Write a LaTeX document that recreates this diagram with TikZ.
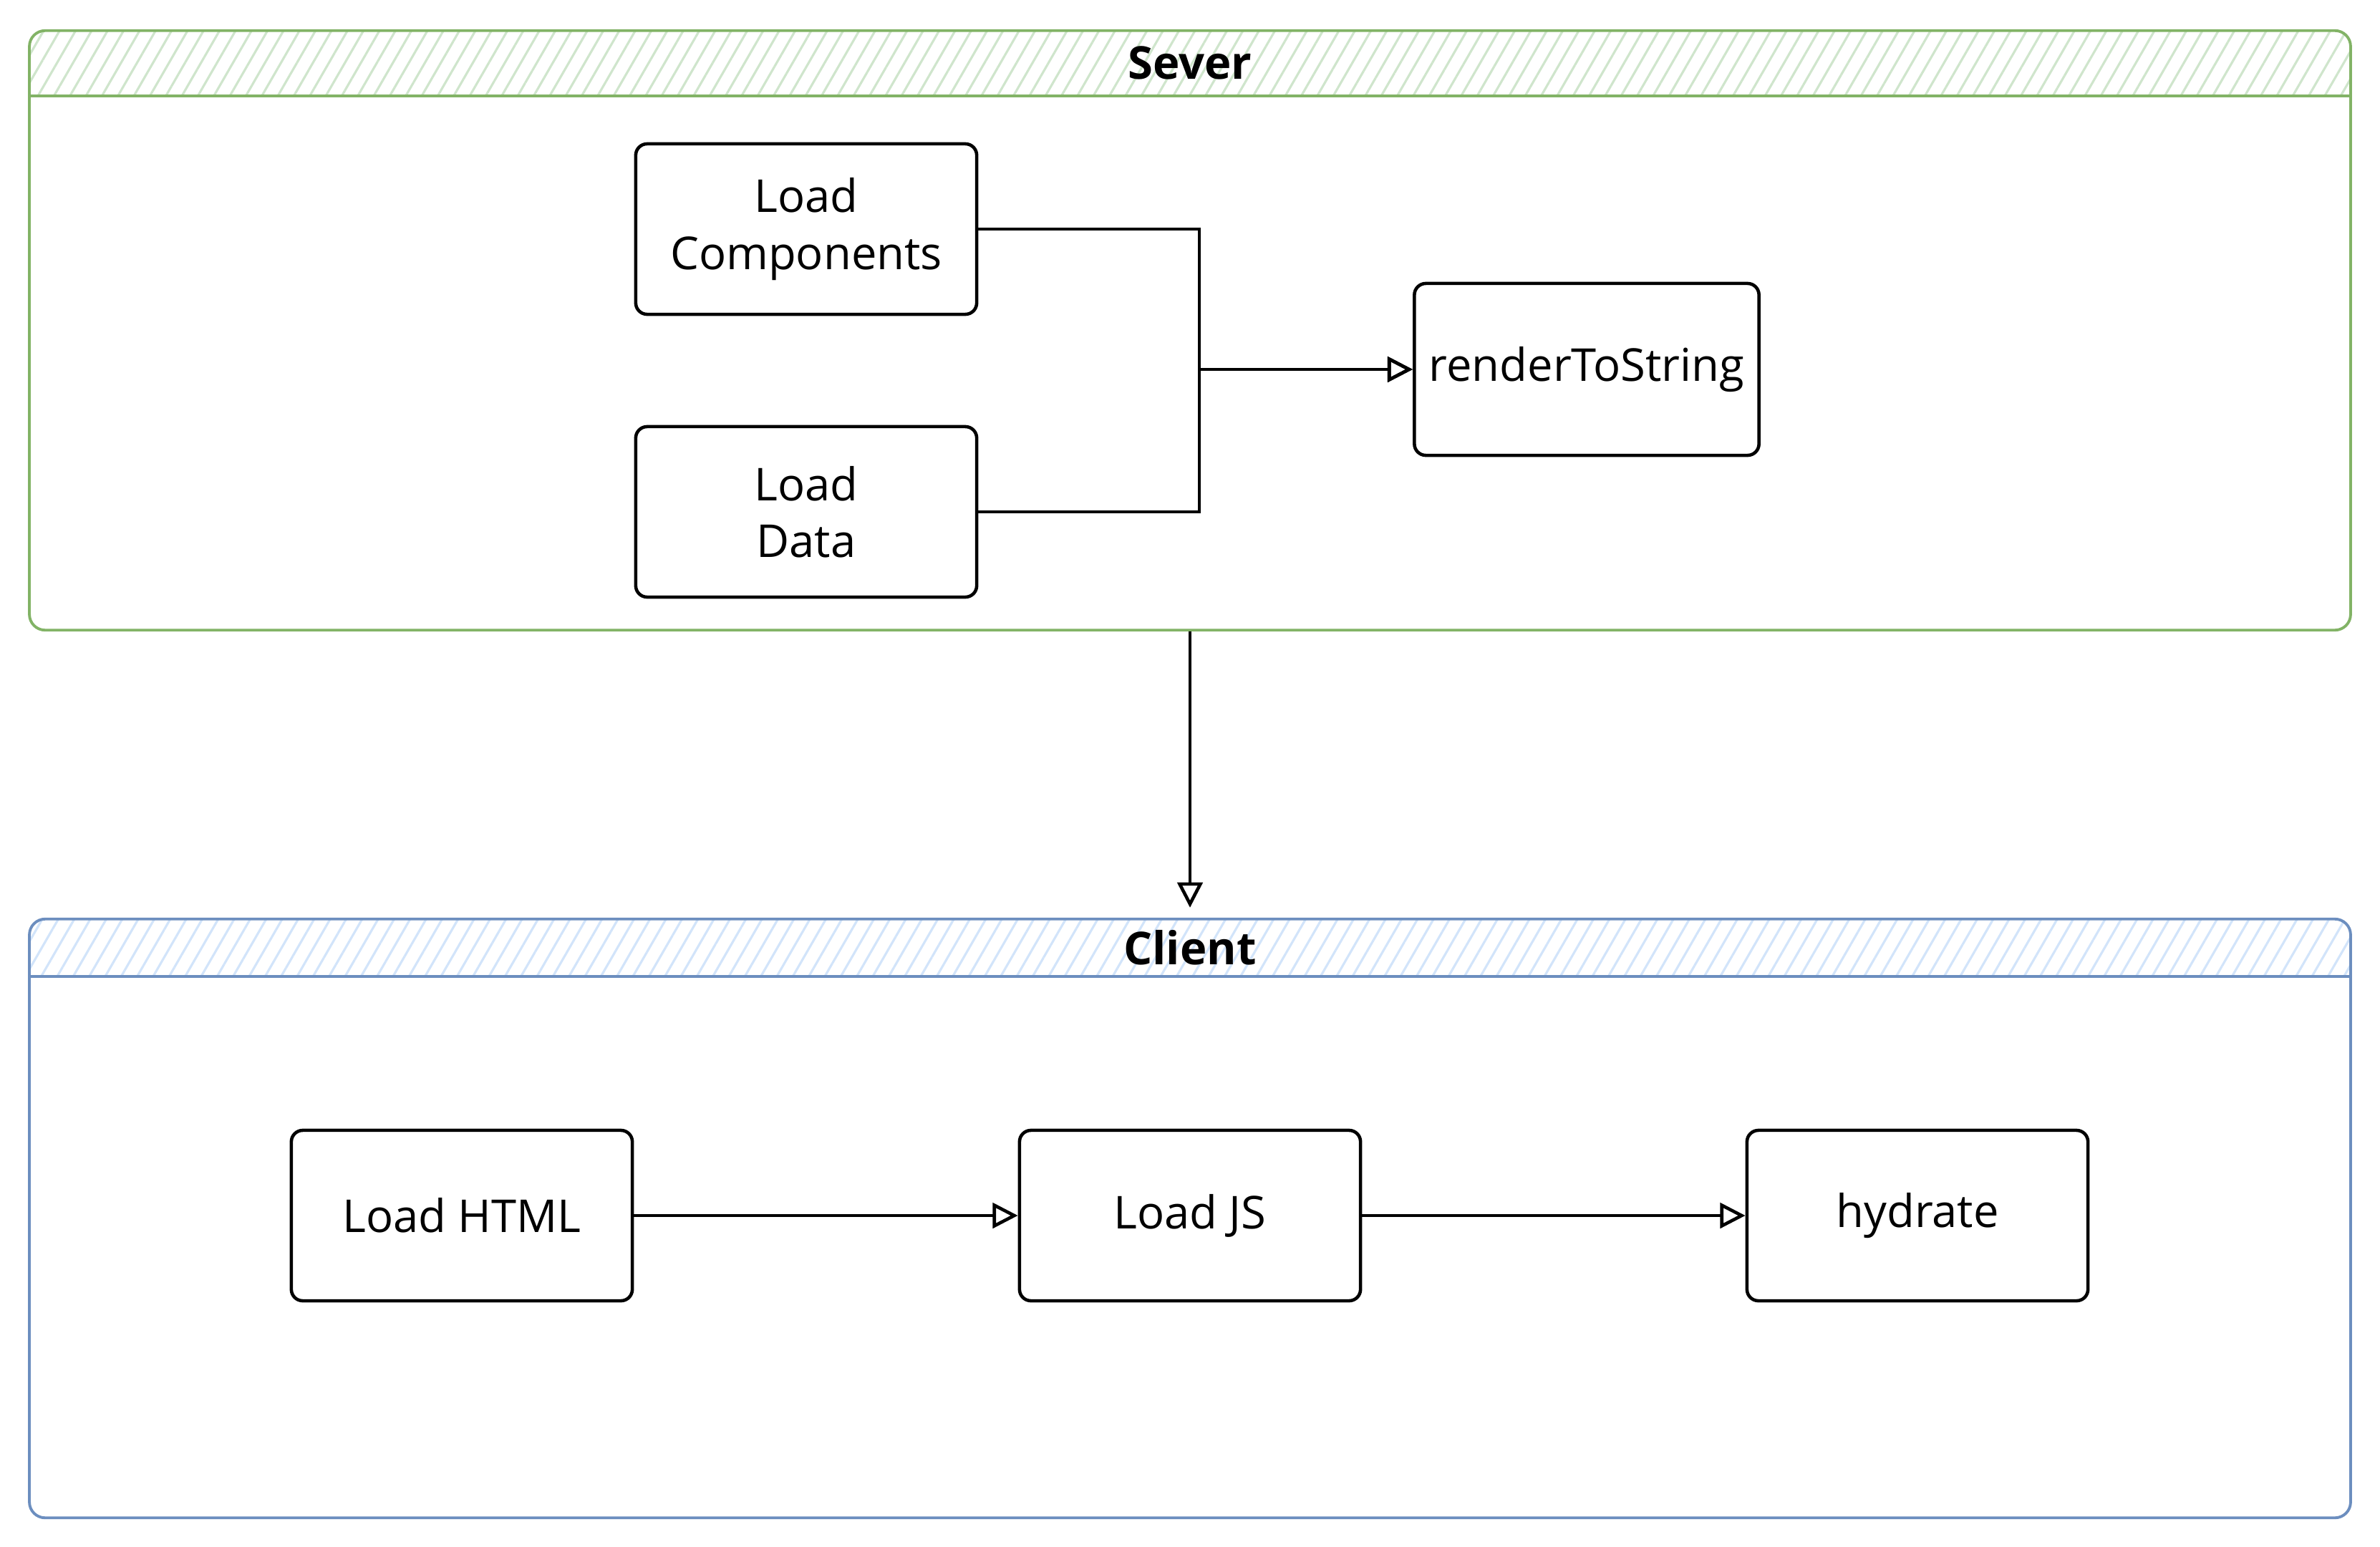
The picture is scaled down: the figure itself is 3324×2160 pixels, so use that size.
\documentclass[tikz,border=0pt]{standalone}
\usepackage{fontspec}
\setmainfont{Open Sans}
\usetikzlibrary{arrows.meta,patterns.meta}
\definecolor{sgreen}{HTML}{82B366}
\definecolor{sgreenfill}{HTML}{CFE5CC}
\definecolor{cblue}{HTML}{6C8EBF}
\definecolor{cbluefill}{HTML}{D2E4FA}
\tikzset{
  stepbox/.style={draw=black, line width=1.3pt, rounded corners=0.16cm,
    minimum width=4.76cm, minimum height=2.38cm, align=center,
    font=\fontsize{18}{22.5}\selectfont, inner sep=2pt},
  container/.style={draw=#1, line width=1.1pt, rounded corners=0.22cm,
    minimum width=32.4cm, inner sep=0pt},
  title/.style={font=\fontsize{18}{22}\selectfont\bfseries},
  conn/.style={draw=black, line width=1.3pt, -{Triangle[open,length=10pt,width=10pt,line width=1.3pt]}},
}
\begin{document}
\begin{tikzpicture}[x=0.01cm,y=-0.01cm]
\useasboundingbox (0,0) rectangle (3324,2160);
% Server container
\begin{scope}
\clip[rounded corners=0.22cm] (42,43) rectangle (3282,880);
\fill[pattern={Lines[angle=60,distance=5.5pt,line width=0.9pt]}, pattern color=sgreenfill] (42,43) rectangle (3282,134);
\end{scope}
\node[container=sgreen, minimum height=8.37cm] (sever) at (1662,461.5) {};
\draw[sgreen, line width=1.1pt] (42,134) -- (3282,134);
\node[title] (severtitle) at (1662,88) {Sever};
% Client container
\begin{scope}
\clip[rounded corners=0.22cm] (42,1284) rectangle (3282,2120);
\fill[pattern={Lines[angle=60,distance=5.5pt,line width=0.9pt]}, pattern color=cbluefill] (42,1284) rectangle (3282,1364);
\end{scope}
\node[container=cblue, minimum height=8.36cm] (client) at (1662,1702) {};
\draw[cblue, line width=1.1pt] (42,1364) -- (3282,1364);
\node[title] (clienttitle) at (1662,1324) {Client};
% Server nodes
\node[stepbox] (lc) at (1126,320) {Load\\Components};
\node[stepbox] (ld) at (1126,715) {Load\\Data};
\node[stepbox, minimum width=4.81cm, minimum height=2.40cm, inner sep=0pt] (rts) at (2216,516) {renderToString};
\coordinate (j) at (1675,516);
\draw[conn] (lc.east) -| (j) -- (rts.west);
\draw[conn] (ld.east) -| (j) -- (rts.west);
% Client nodes
\node[stepbox] (lh) at (645,1698) {Load HTML};
\node[stepbox] (ljs) at (1662,1698) {Load JS};
\node[stepbox] (hy) at (2678,1698) {hydrate};
\draw[conn] (lh.east) -- (ljs.west);
\draw[conn] (ljs.east) -- (hy.west);
% Server to client
\draw[conn, shorten >=0.14cm] (sever.south) -- (client.north);
\end{tikzpicture}
\end{document}
